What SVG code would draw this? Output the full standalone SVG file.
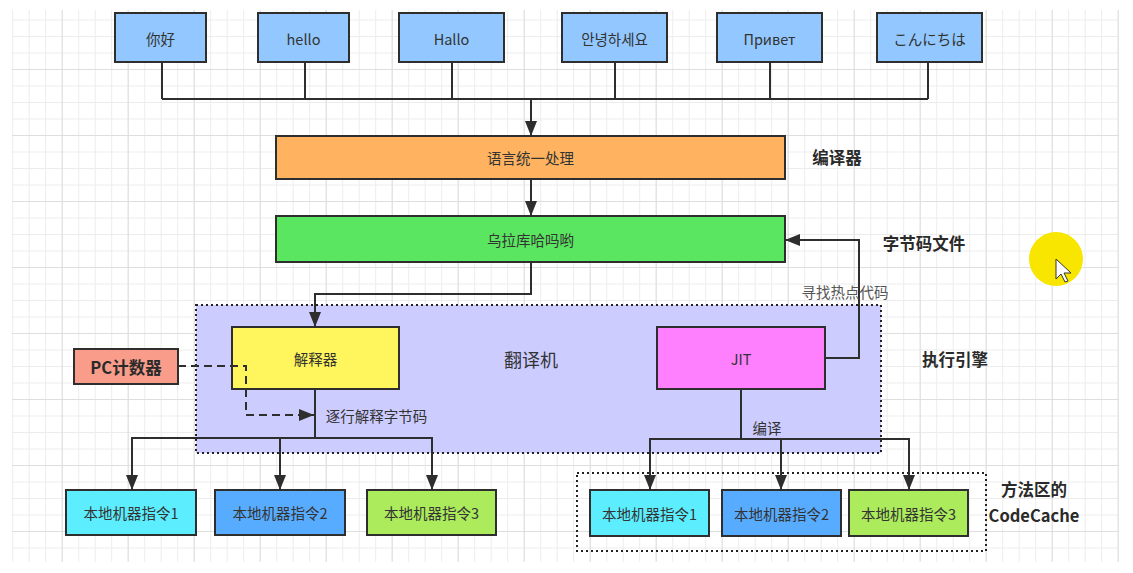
<svg xmlns="http://www.w3.org/2000/svg" width="1133" height="573" viewBox="0 0 1133 573">
<style>
.box{stroke:#2e2e2e;stroke-width:2}
.lbl{font-family:"Noto Sans CJK SC","Noto Sans",sans-serif;font-size:14.5px;fill:#333;text-anchor:middle;dominant-baseline:central}
.kr{font-family:"Noto Sans CJK KR","Noto Sans",sans-serif}
.jp{font-family:"Noto Sans CJK JP","Noto Sans",sans-serif}
.bold{font-weight:bold;font-size:16.5px;fill:#2a2a2a}
.conn{fill:none;stroke:#2e2e2e;stroke-width:2}
.dash{stroke-dasharray:8 5}
.dot{fill:none;stroke:#222;stroke-width:2;stroke-dasharray:2 3}
</style>
<defs>
<pattern id="minor" width="16.5" height="16.5" x="12.2" y="3" patternUnits="userSpaceOnUse">
<path d="M0 0.5H16.5M0.5 0V16.5" stroke="#ececec" stroke-width="1" fill="none"/>
</pattern>
<pattern id="major" width="66" height="66" x="-4.3" y="3" patternUnits="userSpaceOnUse">
<path d="M0 0.5H66M0.5 0V66" stroke="#dedede" stroke-width="1" fill="none"/>
</pattern>
<marker id="arr" viewBox="0 0 15 12" refX="15" refY="6" markerWidth="15" markerHeight="12" markerUnits="userSpaceOnUse" orient="auto">
<path d="M0 0L15 6L0 12z" fill="#2e2e2e"/>
</marker>
</defs>

<rect width="1133" height="573" fill="#ffffff"/>
<g id="grid">
<rect x="12" y="10" width="1107" height="552" fill="url(#minor)"/>
<rect x="12" y="10" width="1107" height="552" fill="url(#major)"/>
</g>

<g id="exec-engine">
<rect x="196" y="305" width="685" height="148" fill="#ccccff"/>
<rect x="196" y="305" width="685" height="148" class="dot"/>
<text x="531" y="359" class="lbl" style="font-size:18px">翻译机</text>
<text x="955" y="359" class="lbl bold">执行引擎</text>
</g>

<g id="codecache">
<rect x="577" y="473" width="409" height="78" class="dot"/>
<text x="1034" y="489" class="lbl bold">方法区的</text>
<text x="1034" y="515" class="lbl bold">CodeCache</text>
</g>

<g id="n-nihao"><rect x="115" y="13" width="91" height="49" fill="#92c8ff" class="box"/><text x="160.5" y="38" class="lbl">你好</text></g>
<g id="n-hello"><rect x="258" y="13" width="91" height="49" fill="#92c8ff" class="box"/><text x="303.5" y="38" class="lbl">hello</text></g>
<g id="n-hallo"><rect x="399" y="13" width="105" height="49" fill="#92c8ff" class="box"/><text x="451.5" y="38" class="lbl">Hallo</text></g>
<g id="n-annyeong"><rect x="562" y="13" width="105" height="49" fill="#92c8ff" class="box"/><text x="614.5" y="38" class="lbl kr">안녕하세요</text></g>
<g id="n-privet"><rect x="717" y="13" width="105" height="49" fill="#92c8ff" class="box"/><text x="769.5" y="38" class="lbl">Привет</text></g>
<g id="n-konnichiwa"><rect x="877" y="13" width="105" height="49" fill="#92c8ff" class="box"/><text x="929.5" y="38" class="lbl jp">こんにちは</text></g>

<g id="n-unify"><rect x="276" y="136" width="509" height="43" fill="#ffb360" class="box"/><text x="530.5" y="157.5" class="lbl">语言统一处理</text></g>
<g id="compiler-label"><text x="837" y="157" class="lbl bold">编译器</text></g>
<g id="n-bytecode"><rect x="276" y="216" width="509" height="46" fill="#5ae660" class="box"/><text x="530.5" y="239.5" class="lbl">乌拉库哈吗哟</text></g>
<g id="bytecode-label"><text x="924" y="243" class="lbl bold">字节码文件</text></g>

<g id="n-interpreter"><rect x="232" y="327" width="167" height="62" fill="#fff55c" class="box"/><text x="315.5" y="358" class="lbl">解释器</text></g>
<g id="n-jit"><rect x="657" y="327" width="168" height="62" fill="#ff80ff" class="box"/><text x="741" y="358" class="lbl">JIT</text></g>
<g id="n-pc"><rect x="74" y="349" width="104" height="35" fill="#f99d8a" class="box"/><text x="126" y="366.5" class="lbl bold">PC计数器</text></g>

<g id="n-l1"><rect x="66" y="490" width="130" height="45" fill="#5ceeff" class="box"/><text x="131" y="512.5" class="lbl">本地机器指令1</text></g>
<g id="n-l2"><rect x="215" y="490" width="130" height="45" fill="#58acff" class="box"/><text x="280" y="512.5" class="lbl">本地机器指令2</text></g>
<g id="n-l3"><rect x="367" y="490" width="129" height="45" fill="#abeb5c" class="box"/><text x="431.5" y="512.5" class="lbl">本地机器指令3</text></g>
<g id="n-r1"><rect x="590" y="490" width="119" height="46" fill="#5ceeff" class="box"/><text x="649.5" y="513" class="lbl">本地机器指令1</text></g>
<g id="n-r2"><rect x="722" y="490" width="119" height="46" fill="#58acff" class="box"/><text x="781.5" y="513" class="lbl">本地机器指令2</text></g>
<g id="n-r3"><rect x="849" y="490" width="119" height="46" fill="#abeb5c" class="box"/><text x="908.5" y="513" class="lbl">本地机器指令3</text></g>

<g id="connectors">
<path class="conn" d="M162 62V99M305 62V99M452 62V99M615 62V99M770 62V99M928 62V99M162 99H928"/>
<path class="conn" d="M531 99V136" marker-end="url(#arr)"/>
<path class="conn" d="M531 179V216" marker-end="url(#arr)"/>
<path class="conn" d="M531 262V294H315V327" marker-end="url(#arr)"/>
<path class="conn" d="M825 358H859V240H785" marker-end="url(#arr)"/>
<path class="conn dash" d="M178 366H246V415H314" marker-end="url(#arr)"/>
<path class="conn" d="M315 389V438H132V490" marker-end="url(#arr)"/>
<path class="conn" d="M315 438H280V490" marker-end="url(#arr)"/>
<path class="conn" d="M315 438H432V490" marker-end="url(#arr)"/>
<path class="conn" d="M741 389V439H650V490" marker-end="url(#arr)"/>
<path class="conn" d="M741 439H781V490" marker-end="url(#arr)"/>
<path class="conn" d="M741 439H909V490" marker-end="url(#arr)"/>
<text x="845" y="291" class="lbl" style="fill:#555">寻找热点代码</text>
<text x="376.5" y="415" class="lbl">逐行解释字节码</text>
<text x="767" y="427" class="lbl">编译</text>
</g>

<g id="cursor">
<circle cx="1056" cy="259" r="27" fill="#f8e500"/>
<path d="M1056 259V279L1061 274L1065 282L1068 281L1064 273L1071 273Z" fill="#fff" stroke="#333" stroke-width="1"/>
</g>
</svg>
